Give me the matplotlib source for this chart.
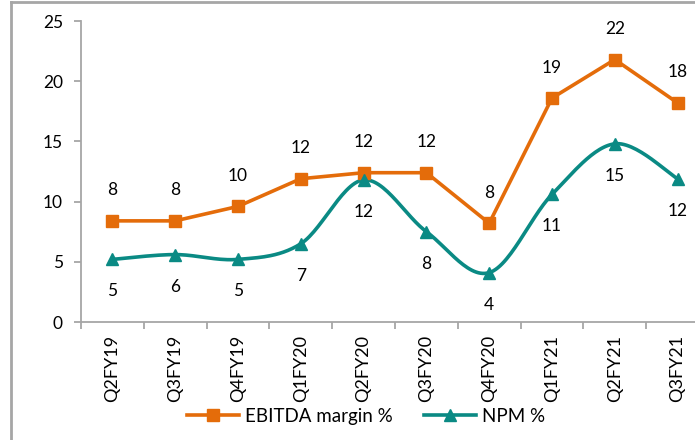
import matplotlib
matplotlib.use("Agg")
import matplotlib.pyplot as plt
import numpy as np
from matplotlib.lines import Line2D

quarters = ["Q2FY19", "Q3FY19", "Q4FY19", "Q1FY20", "Q2FY20",
            "Q3FY20", "Q4FY20", "Q1FY21", "Q2FY21", "Q3FY21"]
ebitda = [8.4, 8.4, 9.6, 11.9, 12.4, 12.4, 8.2, 18.6, 21.8, 18.2]
npm = [5.2, 5.6, 5.2, 6.5, 11.8, 7.5, 4.1, 10.6, 14.8, 11.9]
ebitda_labels = ["8", "8", "10", "12", "12", "12", "8", "19", "22", "18"]
npm_labels = ["5", "6", "5", "7", "12", "8", "4", "11", "15", "12"]

ORANGE = "#E46C0A"
TEAL = "#0A8A84"
GRAY = "#A6A6A6"

plt.rcParams['font.family'] = ['Lato', 'DejaVu Sans']


def smooth(x, y, n=30):
    # Excel-style smoothed line (Catmull-Rom through the points)
    x = np.asarray(x, float)
    y = np.asarray(y, float)
    px = np.concatenate([[x[0]], x, [x[-1]]])
    py = np.concatenate([[y[0]], y, [y[-1]]])
    xs, ys = [], []
    t = np.linspace(0, 1, n)
    for i in range(1, len(px) - 2):
        p0, p1, p2, p3 = [np.array([px[j], py[j]]) for j in (i - 1, i, i + 1, i + 2)]
        c1 = p1 + (p2 - p0) / 6
        c2 = p2 - (p3 - p1) / 6
        b = ((1 - t) ** 3)[:, None] * p1 + (3 * (1 - t) ** 2 * t)[:, None] * c1 \
            + (3 * (1 - t) * t ** 2)[:, None] * c2 + (t ** 3)[:, None] * p2
        xs.extend(b[:, 0])
        ys.extend(b[:, 1])
    return xs, ys


fig = plt.figure(figsize=(6.95, 4.40), dpi=100)
ax = fig.add_axes([81 / 695, 1 - 322 / 440, 628 / 695, 301 / 440])

x = np.arange(len(quarters))

ax.plot(x, ebitda, color=ORANGE, lw=2.6, marker="s", ms=8.5, zorder=3)
sx, sy = smooth(x, npm)
ax.plot(sx, sy, color=TEAL, lw=2.6, zorder=2)
ax.plot(x, npm, ls="none", color=TEAL, marker="^", ms=9, zorder=3)

for xi, v, lab in zip(x, ebitda, ebitda_labels):
    ax.annotate(lab, (xi, v), xytext=(0, 22), textcoords="offset points",
                ha="center", va="center", fontsize=12.5, color="#000000")
for xi, v, lab in zip(x, npm, npm_labels):
    ax.annotate(lab, (xi, v), xytext=(0, -23), textcoords="offset points",
                ha="center", va="center", fontsize=12.5, color="#000000")

ax.set_xlim(-0.5, 9.5)
ax.set_ylim(0, 25)
ax.set_yticks([0, 5, 10, 15, 20, 25])
ax.set_xticks(x)
ax.set_xticklabels(quarters, rotation=90)
ax.set_xticks(np.arange(-0.5, 10, 1), minor=True)
ax.tick_params(axis="x", which="major", length=0, pad=9, labelsize=13)
ax.tick_params(axis="x", which="minor", length=5, color=GRAY, width=1.3)
ax.tick_params(axis="y", length=5, color=GRAY, width=1.3, pad=8, labelsize=12.5)

for s in ("top", "right"):
    ax.spines[s].set_visible(False)
for s in ("left", "bottom"):
    ax.spines[s].set_color(GRAY)
    ax.spines[s].set_linewidth(1.3)

handles = [Line2D([], [], color=ORANGE, lw=2.6, marker="s", ms=8.5),
           Line2D([], [], color=TEAL, lw=2.6, marker="^", ms=9)]
fig.legend(handles, ["EBITDA margin %", "NPM %"], loc="center",
           bbox_to_anchor=(366 / 695, 1 - 416 / 440), ncol=2, frameon=False,
           fontsize=13.5, handlelength=2.8, handletextpad=0.3, columnspacing=1.65)

# outer frame lines (left and top)
fig.add_artist(Line2D([11 / 695, 11 / 695], [0, 1 - 2 / 440], color=GRAY, lw=2,
                      transform=fig.transFigure))
fig.add_artist(Line2D([11 / 695, 1], [1 - 2 / 440, 1 - 2 / 440], color=GRAY, lw=2,
                      transform=fig.transFigure))

fig.savefig("out.png", dpi=100)
